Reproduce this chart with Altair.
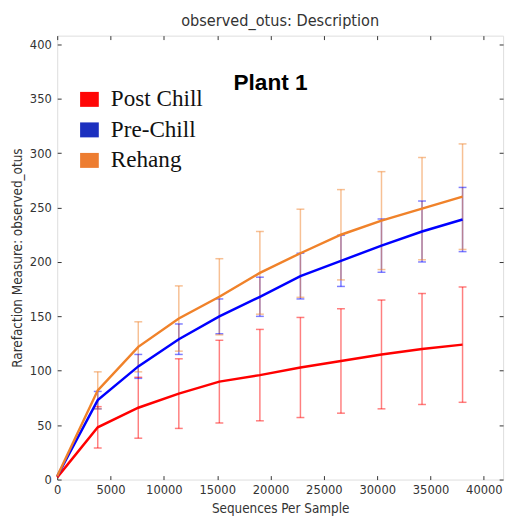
import altair as alt
import pandas as pd

# ---- data ----
seqs = [0, 3800, 7600, 11400, 15200, 19000, 22800, 26600, 30400, 34200, 38000]
groups = ["Post Chill", "Pre-Chill", "Rehang"]
post_mean = [2, 48, 66, 79, 90, 96, 103, 109, 115, 120, 124]
post_std = [0, 19, 28, 32, 38, 42, 46, 48, 50, 51, 53]
pre_mean = [3, 73, 104, 129, 150, 168, 187, 201, 215, 228, 239]
pre_std = [0, 8, 11, 14, 16, 18, 21, 23.5, 24.5, 28, 29.5]
reh_mean = [3, 82, 122, 148, 168, 190, 208, 225, 238, 249, 260]
reh_std = [0, 17, 23, 30, 35, 38, 40.5, 41.5, 45, 47, 48.5]
line_colors = ["#ff0000", "#0000ff", "#f0822a"]
legend_colors = ["#ff0606", "#1c30bf", "#ed7d31"]
x_ticks = [0, 5000, 10000, 15000, 20000, 25000, 30000, 35000, 40000]
y_ticks = [0, 50, 100, 150, 200, 250, 300, 350, 400]
annot_text = ["Plant 1"]
annot_x = [20000]
annot_y = [364]

rows = []
for g, means, stds in zip(groups, [post_mean, pre_mean, reh_mean], [post_std, pre_std, reh_std]):
    for s, m, sd in zip(seqs, means, stds):
        rows.append({"group": g, "seqs": s, "mean": m, "low": m - sd, "high": m + sd, "sd": sd})
df = pd.DataFrame(rows)
annot = pd.DataFrame({"label": annot_text, "x": annot_x, "y": annot_y})

AXFONT = "DejaVu Sans Condensed, DejaVu Sans, sans-serif"
xscale = alt.Scale(domain=[0, 41800], nice=False, zero=False)
yscale = alt.Scale(domain=[0, 408], nice=False, zero=False)

stroke = alt.Stroke("group:N", scale=alt.Scale(domain=groups, range=line_colors), legend=None)
cap_fill = alt.Fill("group:N", scale=alt.Scale(domain=groups, range=line_colors), legend=None)
legend = alt.Legend(
    title=None, orient="none", legendX=21, legendY=53,
    symbolType="M-1,-0.8H1V0.8H-1Z", symbolSize=361, symbolStrokeWidth=0,
    symbolOpacity=1, labelFont="Liberation Serif", labelFontSize=23.5,
    labelColor="#111", labelOffset=10, rowPadding=6, labelLimit=300)
fill = alt.Fill("group:N", scale=alt.Scale(domain=groups, range=legend_colors), sort=groups, legend=legend)

xaxis = alt.Axis(values=x_ticks, format="d", title="Sequences Per Sample", grid=False, domain=False,
                 offset=-4, tickSize=4, tickColor="#333", labelPadding=4,
                 labelFont=AXFONT, labelFontSize=13, labelColor="#333",
                 titleFont=AXFONT, titleFontSize=13.6, titleFontWeight="normal", titleColor="#333",
                 titlePadding=5, labelFlush=False)
yaxis = alt.Axis(values=y_ticks, format="d", title="Rarefaction Measure: observed_otus", grid=False, domain=False,
                 offset=-4, tickSize=4, tickColor="#333", labelPadding=6,
                 labelFont=AXFONT, labelFontSize=13, labelColor="#333",
                 titleFont=AXFONT, titleFontSize=13.6, titleFontWeight="normal", titleColor="#333",
                 titlePadding=5, labelFlush=False)
xtop = alt.Axis(values=x_ticks, orient="top", labels=False, title=None, grid=False, domain=False,
                offset=-4, tickSize=4, tickColor="#333")
yright = alt.Axis(values=y_ticks, orient="right", labels=False, title=None, grid=False, domain=False,
                  offset=-4, tickSize=4, tickColor="#333")

base = alt.Chart(df)
bars = base.transform_filter("datum.sd > 0")

rules = bars.mark_rule(strokeWidth=1.5, opacity=0.5).encode(
    x=alt.X("seqs:Q", scale=xscale, axis=xaxis),
    y=alt.Y("low:Q", scale=yscale, axis=yaxis),
    y2="high:Q",
    stroke=stroke,
)
cap_lo = bars.mark_tick(orient="horizontal", size=8, thickness=1.5, opacity=0.5).encode(
    x=alt.X("seqs:Q", scale=xscale, axis=xtop),
    y=alt.Y("low:Q", scale=yscale, axis=yright),
    fill=cap_fill,
)
cap_hi = bars.mark_tick(orient="horizontal", size=8, thickness=1.5, opacity=0.5).encode(
    x=alt.X("seqs:Q", scale=xscale, axis=None),
    y=alt.Y("high:Q", scale=yscale, axis=None),
    fill=cap_fill,
)
lines = base.mark_line(strokeWidth=2.5).encode(
    x=alt.X("seqs:Q", scale=xscale, axis=None),
    y=alt.Y("mean:Q", scale=yscale, axis=None),
    stroke=stroke,
)
legend_layer = base.mark_point(filled=True, opacity=0, size=1).encode(
    x=alt.X("seqs:Q", scale=xscale, axis=None),
    y=alt.Y("mean:Q", scale=yscale, axis=None),
    fill=fill,
)
text = alt.Chart(annot).mark_text(font="Liberation Sans", fontSize=23, fontWeight="bold",
                                  color="#000", align="center", baseline="middle").encode(
    x=alt.X("x:Q", scale=xscale, axis=None),
    y=alt.Y("y:Q", scale=yscale, axis=None),
    text="label:N",
)

chart = alt.layer(rules, cap_lo, cap_hi, lines, text, legend_layer).resolve_axis(
    x="independent", y="independent"
).resolve_scale(fill="independent").properties(
    width=453, height=451,
    title=alt.TitleParams("observed_otus: Description", font=AXFONT, fontSize=16.4,
                          fontWeight="normal", color="#333", offset=6),
    padding={"left": 50, "top": 24, "right": 6, "bottom": 37},
    autosize=alt.AutoSizeParams(type="none"),
).configure_view(stroke="#555", strokeWidth=1.5).configure(background="white")

chart.save("out.html", embed_options={"renderer": "svg", "actions": False})
